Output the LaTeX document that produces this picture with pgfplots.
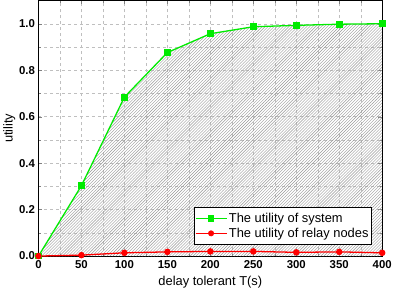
\documentclass[border=0pt]{standalone}
\usepackage{pgfplots}
\pgfplotsset{compat=1.18}
\usetikzlibrary{patterns}
\usepackage{fontspec}
\setmainfont{Liberation Sans}
\definecolor{sysgreen}{RGB}{0,235,0}
\definecolor{relred}{RGB}{255,0,0}
\begin{document}
\begin{tikzpicture}
\begin{axis}[
  scale only axis,
  width=347pt, height=258pt,
  xmin=0, xmax=400, ymin=0, ymax=1.1,
  xtick={0,50,...,400}, ytick={0,0.2,...,1.0},
  minor xtick={25,75,...,375}, minor ytick={0.1,0.3,...,0.9},
  yticklabel style={/pgf/number format/.cd, fixed, fixed zerofill, precision=1},
  /pgf/number format/assume math mode=true,
  tick label style={font=\bfseries\fontsize{11.5}{13}\selectfont},
  xticklabel style={yshift=-1pt},
  tick align=inside, tick pos=both,
  major tick length=4pt, minor tick length=2.5pt,
  grid=both,
  major grid style={gray!50, dashed, line width=0.4pt},
  minor grid style={gray!50, dashed, line width=0.4pt},
  axis line style={line width=1pt},
  xlabel={delay tolerant T(s)}, ylabel={utility},
  label style={font=\fontsize{13}{15}\selectfont},
  xlabel style={yshift=-1pt}, ylabel style={yshift=-3pt},
  legend style={at={(0.97,0.043)}, anchor=south east, draw=black, line width=0.8pt,
    font=\fontsize{13}{15}\selectfont, inner xsep=1pt, inner ysep=4pt, row sep=0pt, cells={anchor=west}},
  legend cell align=left,
  legend image code/.code={\draw[mark repeat=2,mark phase=2, line width=0.8pt]
     plot coordinates {(0cm,0cm) (0.55cm,0cm) (1.1cm,0cm)};},
]
\addplot[draw=none, pattern=north east lines, pattern color=gray!80, forget plot]
  coordinates {(0,0) (50,0.303) (100,0.684) (150,0.876) (200,0.957) (250,0.987) (300,0.993) (350,0.998) (400,1.0)} \closedcycle;
\addplot[sysgreen, line width=1.3pt, mark=square*, mark size=2.8pt, mark options={fill=sysgreen}]
  coordinates {(0,0) (50,0.303) (100,0.684) (150,0.876) (200,0.957) (250,0.987) (300,0.993) (350,0.998) (400,1.0)};
\addlegendentry{The utility of system}
\addplot[relred, line width=1.3pt, mark=*, mark size=2.6pt, mark options={fill=relred}]
  coordinates {(0,0) (50,0.004) (100,0.014) (150,0.018) (200,0.02) (250,0.02) (300,0.016) (350,0.018) (400,0.014)};
\addlegendentry{The utility of relay nodes}
\end{axis}
\end{tikzpicture}
\end{document}
